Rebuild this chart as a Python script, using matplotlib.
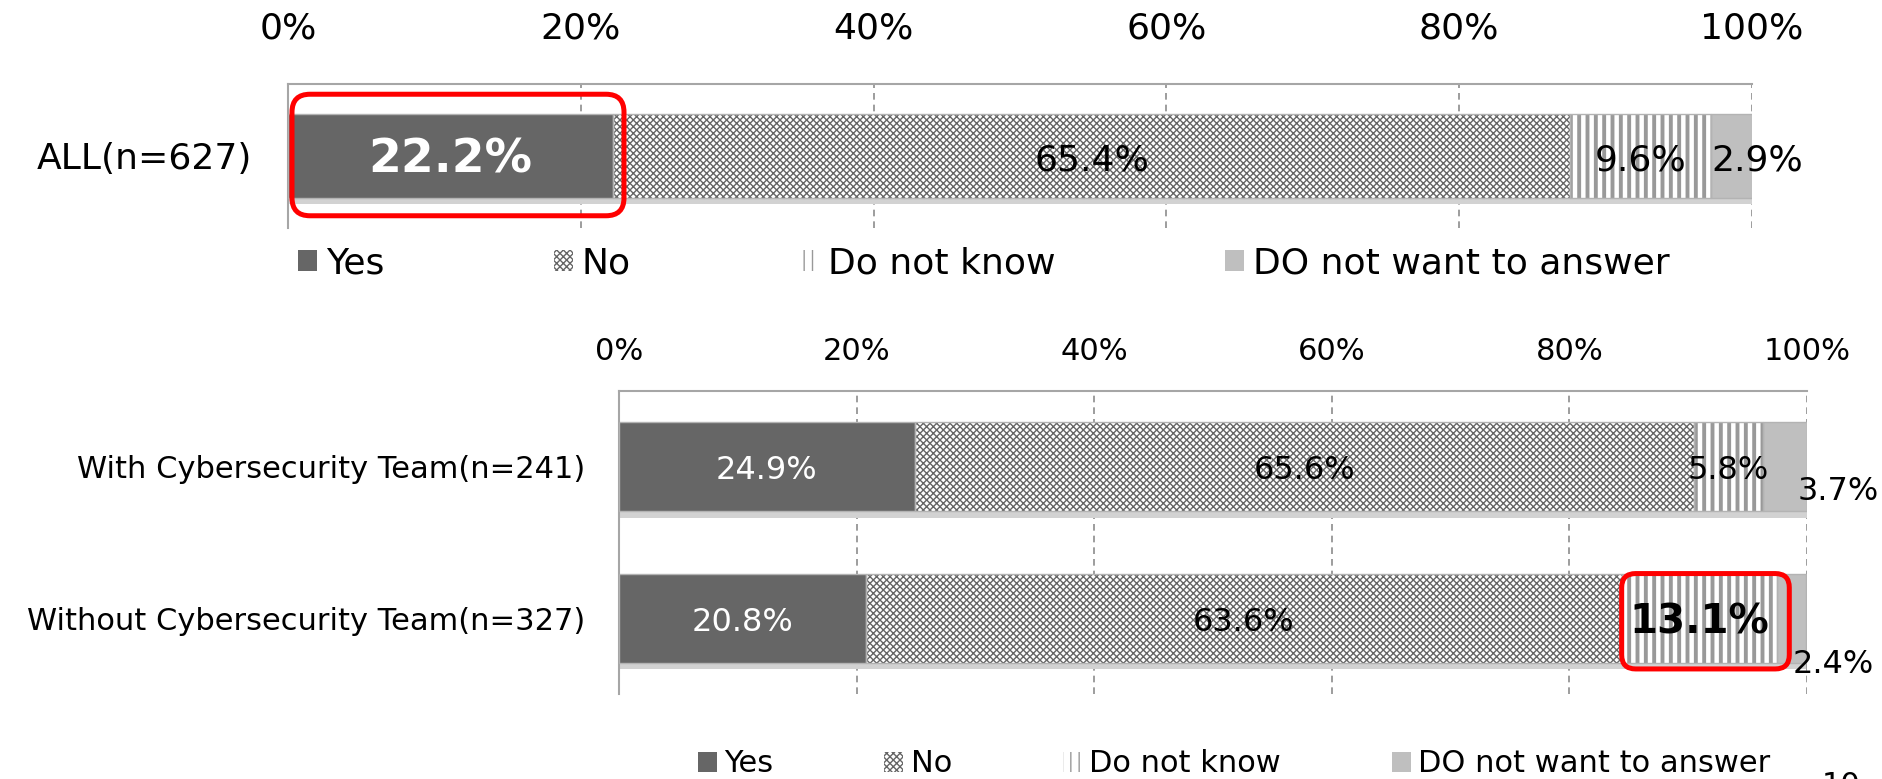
import matplotlib
matplotlib.use("Agg")
import matplotlib as mpl
import matplotlib.pyplot as plt
from matplotlib.patches import FancyBboxPatch
from matplotlib.transforms import IdentityTransform

# ---------------- data ----------------
series_names = ["Yes", "No", "Do not know", "DO not want to answer"]

categories_all = ["ALL(n=627)"]
yes_all = [22.2]
no_all = [65.4]
dnk_all = [9.6]
dna_all = [2.9]

categories_team = ["With Cybersecurity Team(n=241)", "Without Cybersecurity Team(n=327)"]
yes_team = [24.9, 20.8]
no_team = [65.6, 63.6]
dnk_team = [5.8, 13.1]
dna_team = [3.7, 2.4]

tick_values = [0, 20, 40, 60, 80, 100]
tick_labels = ["0%", "20%", "40%", "60%", "80%", "100%"]

# ---------------- style ----------------
plt.rcParams["font.family"] = ["DejaVu Sans"]
W, H = 1882, 779

styles = [
    dict(face="#666666", ec="#666666", hatch=None, hlw=1.0),
    dict(face="white", ec="#666666", hatch="xxxxx", hlw=1.0),
    dict(face="white", ec="#999999", hatch="||", hlw=2.8),
    dict(face="#bfbfbf", ec="#bfbfbf", hatch=None, hlw=1.0),
]

fig = plt.figure(figsize=(W / 100, H / 100), dpi=100)
ax1 = fig.add_axes([288 / W, 1 - 228 / H, 1464 / W, 144 / H])
ax2 = fig.add_axes([619 / W, 1 - 694 / H, 1188 / W, 303 / H])


def setup(ax, cats, tick_fs, tick_pad, ylab_fs, ylab_pad):
    ax.set_xlim(0, 100)
    ax.set_ylim(len(cats) - 0.5, -0.5)
    ax.set_yticks(range(len(cats)))
    ax.set_yticklabels(cats, fontsize=ylab_fs)
    ax.set_xticks(tick_values)
    ax.set_xticklabels(tick_labels, fontsize=tick_fs)
    ax.xaxis.tick_top()
    ax.tick_params(axis="x", length=0, pad=tick_pad)
    ax.tick_params(axis="y", length=0, pad=ylab_pad)
    for s in ["right", "bottom"]:
        ax.spines[s].set_visible(False)
    for s in ["left", "top"]:
        ax.spines[s].set_color("#a6a6a6")
        ax.spines[s].set_linewidth(1.5)
    ax.grid(axis="x", color="#8c8c8c", linestyle=(0, (4, 3)), linewidth=1.2)
    ax.grid(axis="y", visible=False)
    ax.set_axisbelow(True)


def draw_bars(ax, series, bh, shadow_off):
    n = len(series[0])
    ys = list(range(n))
    totals = [sum(s[i] for s in series) for i in range(n)]
    ax.barh([y + shadow_off for y in ys], totals, height=bh, color="#d2d2d2",
            linewidth=0, zorder=2)
    left = [0.0] * n
    handles = []
    segs = []
    for name, vals, st in zip(series_names, series, styles):
        with mpl.rc_context({"hatch.linewidth": st["hlw"]}):
            bars = ax.barh(ys, vals, left=left, height=bh, color=st["face"],
                           edgecolor=st["ec"], linewidth=0, hatch=st["hatch"],
                           zorder=3)
        for p in bars:
            if hasattr(p, "set_hatch_linewidth"):
                p.set_hatch_linewidth(st["hlw"])
        ax.barh(ys, vals, left=left, height=bh, fill=False, edgecolor="#b3b3b3",
                linewidth=1.0, zorder=4)
        handles.append(bars[0])
        segs.append([(l, v, y) for l, v, y in zip(left, vals, ys)])
        left = [l + v for l, v in zip(left, vals)]
    return handles, segs


def label_segments(ax, segs, fmt_fn):
    for si, ser in enumerate(segs):
        for ci, (l, v, y) in enumerate(ser):
            color, weight, size, dx, dy = fmt_fn(si, ci)
            ax.annotate(f"{v:.1f}%", xy=(l + v / 2, y), xytext=(dx, dy - 3),
                        textcoords="offset points", ha="center", va="center",
                        color=color, fontweight=weight, fontsize=size, zorder=6)


def red_box(ax, x0, x1, yc, bh, pads, radius):
    px0, ptop = ax.transData.transform((x0, yc - bh / 2))
    px1, pbot = ax.transData.transform((x1, yc + bh / 2))
    left = px0 - pads[0]
    right = px1 + pads[1]
    top = ptop + pads[2]
    bottom = pbot - pads[3]
    patch = FancyBboxPatch((left, bottom), right - left, top - bottom,
                           boxstyle=f"round,pad=0,rounding_size={radius}",
                           transform=IdentityTransform(), fill=False,
                           edgecolor="#ff0000", linewidth=3.6, zorder=10)
    fig.add_artist(patch)


# ---------------- top chart ----------------
setup(ax1, categories_all, 26, 28, 26, 26)
bh1 = 0.58
h1, segs1 = draw_bars(ax1, [yes_all, no_all, dnk_all, dna_all], bh1, 0.04)


def fmt_top(si, ci):
    if si == 0:
        return ("white", "bold", 34, 0, 0)
    if si == 3:
        return ("black", "normal", 26, 18, 0)
    return ("black", "normal", 26, 0, 0)


label_segments(ax1, segs1, fmt_top)
red_box(ax1, 0, yes_all[0], 0, bh1, (-4, 11, 20, 18), 18)

fig.legend(h1, series_names, loc="center left", bbox_to_anchor=(298 / W, 1 - 263 / H),
           ncol=4, frameon=False, fontsize=26, handlelength=0.53, handleheight=0.53,
           handletextpad=0.25, columnspacing=4.68, borderpad=0, borderaxespad=0)

# ---------------- bottom chart ----------------
setup(ax2, categories_team, 22, 18, 22, 24)
bh2 = 0.59
h2, segs2 = draw_bars(ax2, [yes_team, no_team, dnk_team, dna_team], bh2, 0.04)

outside_offsets = {(3, 0): (38, -15), (3, 1): (30, -30)}


def fmt_bottom(si, ci):
    if si == 0:
        return ("white", "normal", 23, 0, 0)
    if si == 2 and ci == 1:
        return ("black", "bold", 29, 0, 0)
    dx, dy = outside_offsets.get((si, ci), (0, 0))
    return ("black", "normal", 23, dx, dy)


label_segments(ax2, segs2, fmt_bottom)
x0 = yes_team[1] + no_team[1]
red_box(ax2, x0, x0 + dnk_team[1], 1, bh2, (0, 12, 0, 6), 14)

fig.legend(h2, series_names, loc="center left", bbox_to_anchor=(698 / W, 1 - 764 / H),
           ncol=4, frameon=False, fontsize=22, handlelength=0.62, handleheight=0.62,
           handletextpad=0.25, columnspacing=3.62, borderpad=0, borderaxespad=0)

fig.text(0.978, -0.008, "10", fontsize=22, ha="center", va="center")

fig.savefig("out.png", dpi=100)
